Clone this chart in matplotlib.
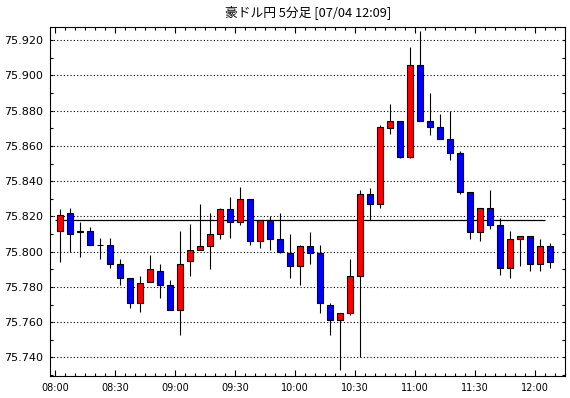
import numpy as np
import matplotlib
matplotlib.use('Agg')
import matplotlib.pyplot as plt
from matplotlib.ticker import MultipleLocator, FixedLocator

# 5-minute AUD/JPY bars from 08:00 to 12:05
opens = [75.812, 75.822, 75.811, 75.812, 75.804, 75.804, 75.793, 75.785, 75.771, 75.783,
         75.789, 75.781, 75.767, 75.795, 75.801, 75.803, 75.810, 75.824, 75.817, 75.830,
         75.806, 75.818, 75.807, 75.799, 75.792, 75.803, 75.799, 75.770, 75.761, 75.765,
         75.786, 75.833, 75.827, 75.870, 75.874, 75.854, 75.906, 75.874, 75.871, 75.864,
         75.856, 75.834, 75.811, 75.825, 75.815, 75.791, 75.807, 75.809, 75.793, 75.803]
highs = [75.824, 75.825, 75.817, 75.814, 75.808, 75.808, 75.796, 75.785, 75.786, 75.798,
         75.793, 75.784, 75.812, 75.816, 75.827, 75.822, 75.825, 75.831, 75.837, 75.830,
         75.818, 75.820, 75.822, 75.810, 75.804, 75.811, 75.804, 75.771, 75.765, 75.796,
         75.835, 75.836, 75.872, 75.884, 75.874, 75.916, 75.925, 75.890, 75.878, 75.880,
         75.857, 75.834, 75.825, 75.835, 75.819, 75.812, 75.809, 75.809, 75.807, 75.805]
lows = [75.794, 75.800, 75.797, 75.804, 75.796, 75.791, 75.781, 75.768, 75.766, 75.783,
        75.774, 75.767, 75.753, 75.786, 75.801, 75.790, 75.807, 75.808, 75.815, 75.804,
        75.802, 75.801, 75.799, 75.785, 75.781, 75.793, 75.765, 75.753, 75.733, 75.764,
        75.740, 75.818, 75.825, 75.867, 75.853, 75.853, 75.874, 75.866, 75.864, 75.852,
        75.833, 75.807, 75.806, 75.813, 75.787, 75.785, 75.792, 75.789, 75.789, 75.791]
closes = [75.821, 75.810, 75.812, 75.804, 75.804, 75.793, 75.785, 75.771, 75.782, 75.790,
          75.781, 75.767, 75.793, 75.801, 75.803, 75.810, 75.824, 75.817, 75.830, 75.806,
          75.818, 75.807, 75.800, 75.792, 75.803, 75.799, 75.771, 75.761, 75.765, 75.786,
          75.833, 75.827, 75.871, 75.874, 75.854, 75.906, 75.874, 75.871, 75.864, 75.856,
          75.834, 75.811, 75.825, 75.815, 75.791, 75.807, 75.809, 75.793, 75.803, 75.794]
ref_price = 75.8179
time_labels = ['08:00', '08:30', '09:00', '09:30', '10:00', '10:30', '11:00', '11:30', '12:00']
title = '豪ドル円 5分足 [07/04 12:09]'

o = np.array(opens)
h = np.array(highs)
l = np.array(lows)
c = np.array(closes)
x = np.arange(len(o)) + 0.5

fig = plt.figure(figsize=(5.7, 3.98), dpi=100)
ax = fig.add_axes([50/570, 1-376/398, 515/570, 349/398])

for yv in np.arange(75.740, 75.921, 0.020):
    ax.hlines(yv, -0.5, 50.5, colors='black', linewidth=0.8,
              linestyles=(0, (1, 2)), zorder=1)

ax.hlines(ref_price, 0, 49, colors='black', linewidth=0.9, zorder=2)
ax.vlines(x, l, h, colors='black', linewidth=0.8, zorder=3)

up = c >= o
colors = np.where(up, '#ff0000', '#0000ff')
bottom = np.minimum(o, c)
height = np.abs(c - o)
ax.bar(x, height, bottom=bottom, width=0.6, color=colors,
       edgecolor='black', linewidth=0.8, zorder=4)

ax.set_xlim(-0.5, 51.0)
ax.set_ylim(75.7295, 75.9275)

ax.xaxis.set_major_locator(FixedLocator(np.arange(0, 49, 6)))
ax.xaxis.set_minor_locator(FixedLocator(np.arange(0, 52, 1)))
ax.set_xticklabels(time_labels)
ax.yaxis.set_major_locator(MultipleLocator(0.020))
ax.yaxis.set_minor_locator(MultipleLocator(0.010))
ax.yaxis.set_major_formatter(plt.FuncFormatter(lambda v, p: '{0:.3f}'.format(v)))

ax.tick_params(axis='x', which='major', direction='in', length=4, width=0.8,
               top=True, labelsize=7, pad=5)
ax.tick_params(axis='x', which='minor', direction='in', length=2, width=0.8, top=True)
ax.tick_params(axis='y', which='both', direction='in', length=2, width=0.8,
               right=True, labelsize=8, pad=5)

for s in ax.spines.values():
    s.set_linewidth(0.8)

fig.text(308/570, 1-12/398, title, ha='center', va='center', fontsize=9.2,
         family=['Noto Sans CJK JP', 'DejaVu Sans'])

fig.savefig('out.png', dpi=100)
